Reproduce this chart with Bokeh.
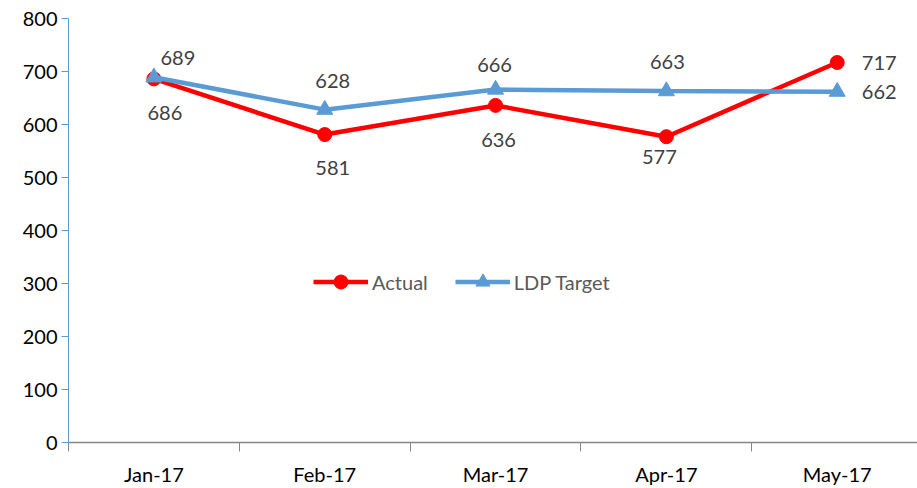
from bokeh.plotting import figure
from bokeh.models import (ColumnDataSource, FixedTicker, Legend, LegendItem, Range1d)
from bokeh.embed import file_html
from bokeh.resources import INLINE
from bokeh.core.properties import value

categories = ["Jan-17", "Feb-17", "Mar-17", "Apr-17", "May-17"]
actual = [686, 581, 636, 577, 717]
target = [689, 628, 666, 663, 662]
y_ticks = [0, 100, 200, 300, 400, 500, 600, 700, 800]

# label offsets (pixels) - layout only
act_dx = [11, 8, 3, -7, 42]
act_dy = [34, 33, 35, 20, 1]
tgt_dx = [24, 8, -1, 1, 42]
tgt_dy = [-19, -29, -25, -29, 0]

FONT = "Lato"
xs = [i + 0.5 for i in range(len(categories))]

p = figure(width=917, height=488, output_backend="svg", toolbar_location=None,
           x_range=Range1d(0, 4.97), y_range=Range1d(0, 800),
           min_border_left=68, min_border_right=0, min_border_top=18, min_border_bottom=45)
p.outline_line_color = None
p.grid.grid_line_color = None
p.background_fill_color = "white"

src_a = ColumnDataSource(dict(x=xs, y=actual, t=[str(v) for v in actual], dx=act_dx, dy=act_dy))
src_t = ColumnDataSource(dict(x=xs, y=target, t=[str(v) for v in target], dx=tgt_dx, dy=tgt_dy))

la = p.line("x", "y", source=src_a, line_color="#FF0000", line_width=4.5)
sa = p.scatter("x", "y", source=src_a, marker="circle", size=14, fill_color="#FF0000", line_color="#FF0000")
lt = p.line("x", "y", source=src_t, line_color="#5B9BD5", line_width=4.5)
st = p.scatter("x", "y", source=src_t, marker="triangle", size=16, fill_color="#5B9BD5", line_color="#5B9BD5")

for src in (src_a, src_t):
    p.text("x", "y", text="t", source=src, x_offset="dx", y_offset="dy",
           text_align="center", text_baseline="middle", text_color="#404040",
           text_font=value(FONT), text_font_size="20px")

# axes
p.yaxis.ticker = FixedTicker(ticks=y_ticks)
p.yaxis.axis_line_color = "#5B9BD5"
p.yaxis.axis_line_width = 1
p.yaxis.major_tick_line_color = "#5B9BD5"
p.yaxis.major_tick_out = 7
p.yaxis.major_tick_in = 0
p.yaxis.minor_tick_line_color = None
p.yaxis.major_label_text_font = FONT
p.yaxis.major_label_text_font_size = "20px"
p.yaxis.major_label_text_color = "#000000"
p.yaxis.major_label_standoff = 4

p.xaxis.ticker = FixedTicker(ticks=xs, minor_ticks=list(range(len(categories) + 1)))
p.xaxis.major_label_overrides = {x: c for x, c in zip(xs, categories)}
p.xaxis.axis_line_color = "#868686"
p.xaxis.axis_line_width = 1.5
p.xaxis.major_tick_line_color = None
p.xaxis.major_tick_out = 0
p.xaxis.minor_tick_line_color = "#868686"
p.xaxis.minor_tick_out = 9
p.xaxis.minor_tick_in = 0
p.xaxis.major_label_text_font = FONT
p.xaxis.major_label_text_font_size = "20px"
p.xaxis.major_label_text_color = "#000000"
p.xaxis.major_label_standoff = 10

legend = Legend(items=[LegendItem(label="Actual", renderers=[la, sa]),
                       LegendItem(label="LDP Target", renderers=[lt, st])],
                orientation="horizontal", location=(245, 143))
legend.label_text_font = FONT
legend.label_text_font_size = "20px"
legend.label_text_color = "#595959"
legend.glyph_width = 55
legend.glyph_height = 35
legend.label_height = 35
legend.label_standoff = 4
legend.spacing = 27
legend.padding = 0
legend.margin = 0
legend.border_line_alpha = 0
legend.background_fill_alpha = 0
p.add_layout(legend)

open("out.html", "w").write(file_html(p, INLINE))
